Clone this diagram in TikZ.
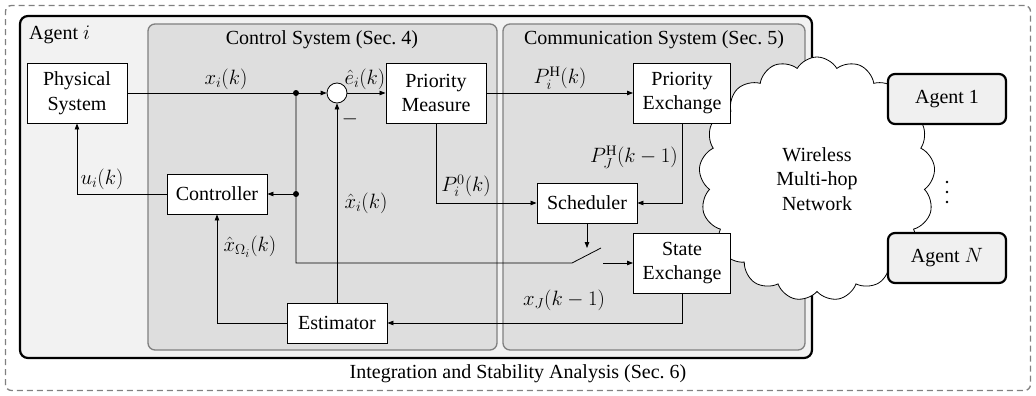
\documentclass[tikz,border=0pt]{standalone}
\usepackage{fontspec}
\setmainfont{Liberation Serif}
\DeclareMathSizes{20}{20.74}{14.4}{12}
\usetikzlibrary{arrows.meta,shapes.symbols,calc}
\begin{document}
\begin{tikzpicture}[x=1pt,y=-1pt,
  every node/.style={font=\fontsize{20}{24.5}\selectfont, inner sep=0pt},
  blk/.style={draw, fill=white, line width=0.9pt, minimum width=100pt, align=center},
  cont/.style={draw=black!50, line width=1.3pt, fill=black!13, rounded corners=7pt, minimum height=326pt},
  agentbox/.style={draw, line width=2.2pt, fill=black!6, rounded corners=7pt, minimum width=118pt, minimum height=50pt},
  arr/.style={line width=0.8pt, -{Triangle[length=6pt,width=4.5pt]}},
  ln/.style={line width=0.8pt}
]
\useasboundingbox (0,0) rectangle (1036,396);
% containers
\node[draw=black!50, dash pattern=on 6pt off 4pt, line width=1.3pt, rounded corners=6pt,
      minimum width=1025pt, minimum height=385pt] (outer) at (518,198) {};
\node[draw, line width=2.2pt, fill=black!5, rounded corners=8pt,
      minimum width=792pt, minimum height=342pt] (agi) at (416,187) {};
\node[cont, minimum width=349pt] (cs) at (322.5,187) {};
\node[cont, minimum width=302pt] (comm) at (654,187) {};
\node[anchor=west] (agil) at (29,35) {Agent $i$};
\node (csl) at (322,40) {Control System (Sec.~4)};
\node (comml) at (654,40) {Communication System (Sec.~5)};
% cloud
\node[cloud, draw, fill=white, line width=0.8pt, cloud puffs=17, cloud puff arc=120, aspect=1,
      minimum width=236pt, minimum height=244pt, align=center] (net) at (817,179)
      {Wireless\\Multi-hop\\Network};
% blocks
\node[blk, minimum height=60pt] (phys) at (77,93) {Physical\\System};
\node[blk, minimum height=60pt] (prio) at (436,93) {Priority\\Measure};
\node[blk, minimum height=40pt] (ctrl) at (217,194) {Controller};
\node[blk, minimum height=40pt] (est) at (337,323) {Estimator};
\node[blk, minimum height=40pt] (sched) at (587,203) {Scheduler};
\node[blk, minimum width=97pt, minimum height=60pt] (pex) at (682,93) {Priority\\Exchange};
\node[blk, minimum width=97pt, minimum height=60pt] (sex) at (682,263) {State\\Exchange};
\node[draw, fill=white, circle, line width=0.8pt, minimum size=20pt] (sum) at (337,93) {};
\node[agentbox] (ag1) at (947,99) {Agent 1};
\node[agentbox] (agN) at (947,258) {Agent $N$};
% vertical dots
\coordinate (d1) at (947,182);
\coordinate (d2) at (947,192);
\coordinate (d3) at (947,202);
\fill (d1) circle (1.3pt) (d2) circle (1.3pt) (d3) circle (1.3pt);
% coordinates
\coordinate (j1) at (296,93);
\coordinate (j2) at (296,194);
\coordinate (j3) at (296,263);
\coordinate (sw1) at (572,263);
\coordinate (sw2) at (601,248);
\coordinate (sw3) at (603,263);
\coordinate (swt) at (587,248);
% connectors
\draw[arr] (phys.east) -- (sum.west);
\draw[arr] (sum.east) -- (prio.west);
\draw[arr] (j2) -- (ctrl.east);
\draw[ln] (j1) -- (j3) -- (sw1) -- (sw2);
\draw[arr] (sw3) -- (sex.west);
\draw[arr] (ctrl.west) -| (phys.south);
\draw[arr] (est.west) -| (ctrl.south);
\draw[arr] (est.north) -- (sum.south);
\draw[arr] (prio.south) |- (sched.west);
\draw[arr] (prio.east) -- (pex.west);
\draw[arr] (pex.south) |- (sched.east);
\draw[arr] (sex.south) |- (est.east);
\draw[arr] (sched.south) -- (swt);
\fill (j1) circle (3pt);
\fill (j2) circle (3pt);
% labels
\node (lx) at (226,79) {$x_i(k)$};
\node (le) at (365,79) {$\hat{e}_i(k)$};
\node (lm) at (350,119) {$-$};
\node (lu) at (102,179) {$u_i(k)$};
\node (lxo) at (250,247) {$\hat{x}_{\Omega_i}(k)$};
\node (lxh) at (366,203) {$\hat{x}_i(k)$};
\node (lp0) at (466,186) {$P_i^0(k)$};
\node (lph) at (560,78) {$P_i^{\mathrm{H}}(k)$};
\node (lpj) at (634,157) {$P_J^{\mathrm{H}}(k-1)$};
\node (lxj) at (564,300) {$x_J(k-1)$};
\node (integ) at (518,374) {Integration and Stability Analysis (Sec.~6)};
\end{tikzpicture}
\end{document}
